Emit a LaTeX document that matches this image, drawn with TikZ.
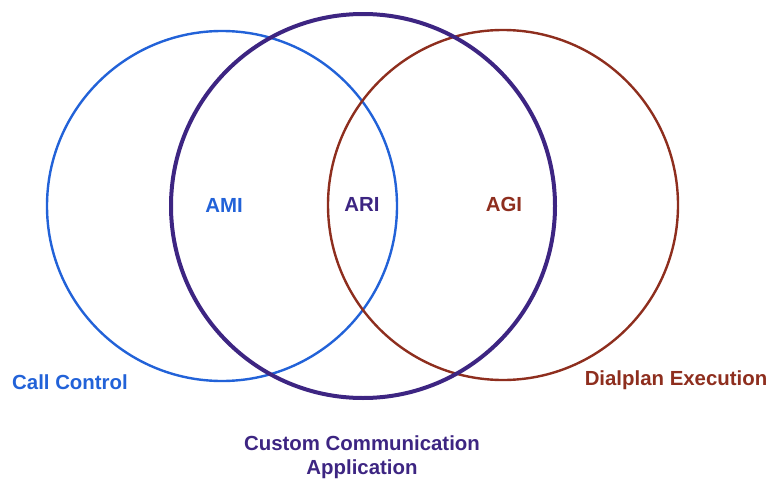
\documentclass[tikz,border=0pt]{standalone}
\usepackage{fontspec}
\setmainfont{Liberation Sans}
\usetikzlibrary{positioning}

\definecolor{callblue}{HTML}{2262D8}
\definecolor{custpurple}{HTML}{3D2582}
\definecolor{planbrown}{HTML}{8E2E1E}

\tikzset{
  ring/.style={line width=2.4pt},
  lbl/.style={font=\bfseries\fontsize{20.4}{24}\selectfont, inner sep=0pt, align=center}
}

\begin{document}
\begin{tikzpicture}[x=1pt,y=-1pt]
  \useasboundingbox (0,0) rectangle (771,482);

  \pgfmathsetmacro\rsmall{175}
  \pgfmathsetmacro\rbig{192}

% circle centres
  \coordinate (call) at (222,206);
  \coordinate (cust) at (363,206);
  \coordinate (plan) at (503,205);

% circles
  \draw[ring,callblue]   (call) circle (\rsmall);
  \draw[ring,planbrown]  (plan) circle (\rsmall);
  \draw[ring,custpurple,line width=4pt] (cust) circle (\rbig);

% interface labels
  \node[lbl,text=callblue]   (ami) at (224,205) {AMI};
  \node[lbl,text=custpurple] (ari) at (362,204) {ARI};
  \node[lbl,text=planbrown]  (agi) at (504,204) {AGI};

% set labels
  \node[lbl,text=callblue]   (callctl) at (70,382) {Call Control};
  \node[lbl,text=planbrown]  (dialexe) at (676,380) {Dialplan Execution};
  \node[lbl,text=custpurple] (custapp) at (362,457) {Custom Communication\\Application};

\end{tikzpicture}
\end{document}
